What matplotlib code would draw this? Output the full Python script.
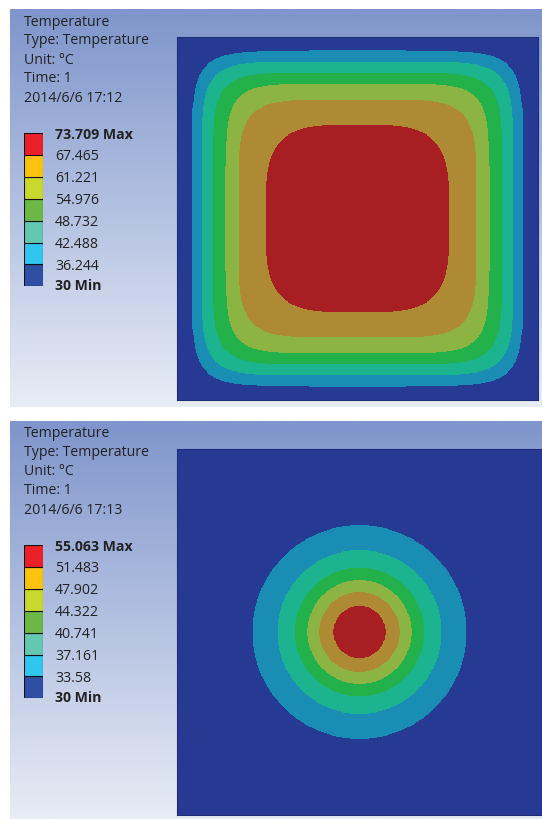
import numpy as np
import matplotlib
matplotlib.use("Agg")
import matplotlib.pyplot as plt
from matplotlib.colors import ListedColormap, BoundaryNorm, LinearSegmentedColormap

W, H = 542, 820

# legend levels (deg C)
levels_top = [30, 36.244, 42.488, 48.732, 54.976, 61.221, 67.465, 73.709]
levels_bot = [30, 33.58, 37.161, 40.741, 44.322, 47.902, 51.483, 55.063]

# isotherm shapes (outer -> inner, in pixels from centre)
top_half_x = [166, 156, 145, 132, 119, 92]
top_half_y = [168, 157, 146, 135, 119, 94]
top_power = [7.5, 7.5, 7, 6.5, 5.5, 3.7]
bot_radius = [107, 82, 64.5, 52, 40, 26]

stamp_top = ["Temperature", "Type: Temperature", "Unit: °C", "Time: 1", "2014/6/6 17:12"]
stamp_bot = ["Temperature", "Type: Temperature", "Unit: °C", "Time: 1", "2014/6/6 17:13"]

legend_colors = ["#2E4FA3", "#31C6F0", "#63C7B2", "#6BB944", "#C9D82D", "#FFC30F", "#EC2028"]
shaded_colors = ["#263A93", "#1A8DB4", "#1CB48F", "#23B14B", "#8CB443", "#AD8A33", "#A71E23"]

plt.rcParams['font.family'] = ['Open Sans', 'DejaVu Sans']
FS = 10.2


def px_axes(fig, x0, y0, w, h):
    return fig.add_axes([x0 / W, 1 - (y0 + h) / H, w / W, h / H])


def band_value(levels, inside):
    idx = inside.astype(int)
    mids = np.array([(levels[i] + levels[i + 1]) / 2 for i in range(len(levels) - 1)])
    return mids[idx]


def panel(fig, y0, stamp, levels, field, extent, plot_rect):
    # gradient backdrop
    bg = px_axes(fig, 10, y0, 532, 398)
    grad = LinearSegmentedColormap.from_list("bg", ["#7F95CB", "#B3C1E1", "#E8ECF5"])
    bg.imshow(np.linspace(0, 1, 200)[:, None], aspect="auto", cmap=grad)
    bg.axis("off")

    for i, s in enumerate(stamp):
        fig.text(24 / W, 1 - (y0 + 12 + 19 * i) / H, s, fontsize=FS,
                 color="#222222", va="center", ha="left")

    # colour legend
    bar_top = y0 + 124
    seg = 21.9
    lg = px_axes(fig, 24, bar_top, 19, seg * 7)
    n = len(legend_colors)
    for i, c in enumerate(legend_colors):
        lg.bar(0.5, 1, bottom=i, width=1, color=c, edgecolor="#111111", linewidth=0.8)
    lg.set_xlim(0, 1)
    lg.set_ylim(0, n)
    lg.axis("off")
    for i, v in enumerate(levels[::-1]):
        if i == 0:
            txt, wt = f"{v:g} Max", "bold"
        elif i == len(levels) - 1:
            txt, wt = f"{v:g} Min", "bold"
        else:
            txt, wt = f"{v:g}", "normal"
        yy = bar_top + 1 + seg * i - (2 if i == len(levels) - 1 else 0)
        fig.text(55 / W, 1 - yy / H, txt, fontsize=FS, color="#222222",
                 fontweight=wt, va="center", ha="left")

    ax = px_axes(fig, *plot_rect)
    cmap = ListedColormap(shaded_colors)
    norm = BoundaryNorm(levels, cmap.N)
    ax.imshow(field, cmap=cmap, norm=norm, extent=extent, origin="lower",
              interpolation="nearest", aspect="auto")
    ax.set_xticks([])
    ax.set_yticks([])
    for sp in ax.spines.values():
        sp.set_color("#1E2E7A")
        sp.set_linewidth(0.8)


fig = plt.figure(figsize=(W / 100, H / 100), dpi=100)

# top: square plate
hx, hy = 180.5, 181.5
xs = np.linspace(-hx, hx, 700)
ys = np.linspace(-hy, hy, 700)
X, Y = np.meshgrid(xs, ys)
inside = np.zeros_like(X)
for ax_, ay_, p in zip(top_half_x, top_half_y, top_power):
    inside += ((np.abs(X) / ax_) ** p + (np.abs(Y) / ay_) ** p) < 1
field_top = band_value(levels_top, inside)

# bottom: circular heat source
hb = 182
xb = np.linspace(-hb, hb, 700)
Xb, Yb = np.meshgrid(xb, np.linspace(-183, 183, 700))
Rb = np.hypot(Xb, Yb)
inside_b = np.zeros_like(Xb)
for r in bot_radius:
    inside_b += Rb < r
field_bot = band_value(levels_bot, inside_b)

panel(fig, 10, stamp_top, levels_top, field_top, [-hx, hx, -hy, hy], (177, 38, 361, 363))
panel(fig, 422, stamp_bot, levels_bot, field_bot, [-hb, hb, -183, 183], (177, 450, 365, 366))

fig.savefig("out.png", dpi=100, facecolor="white")
